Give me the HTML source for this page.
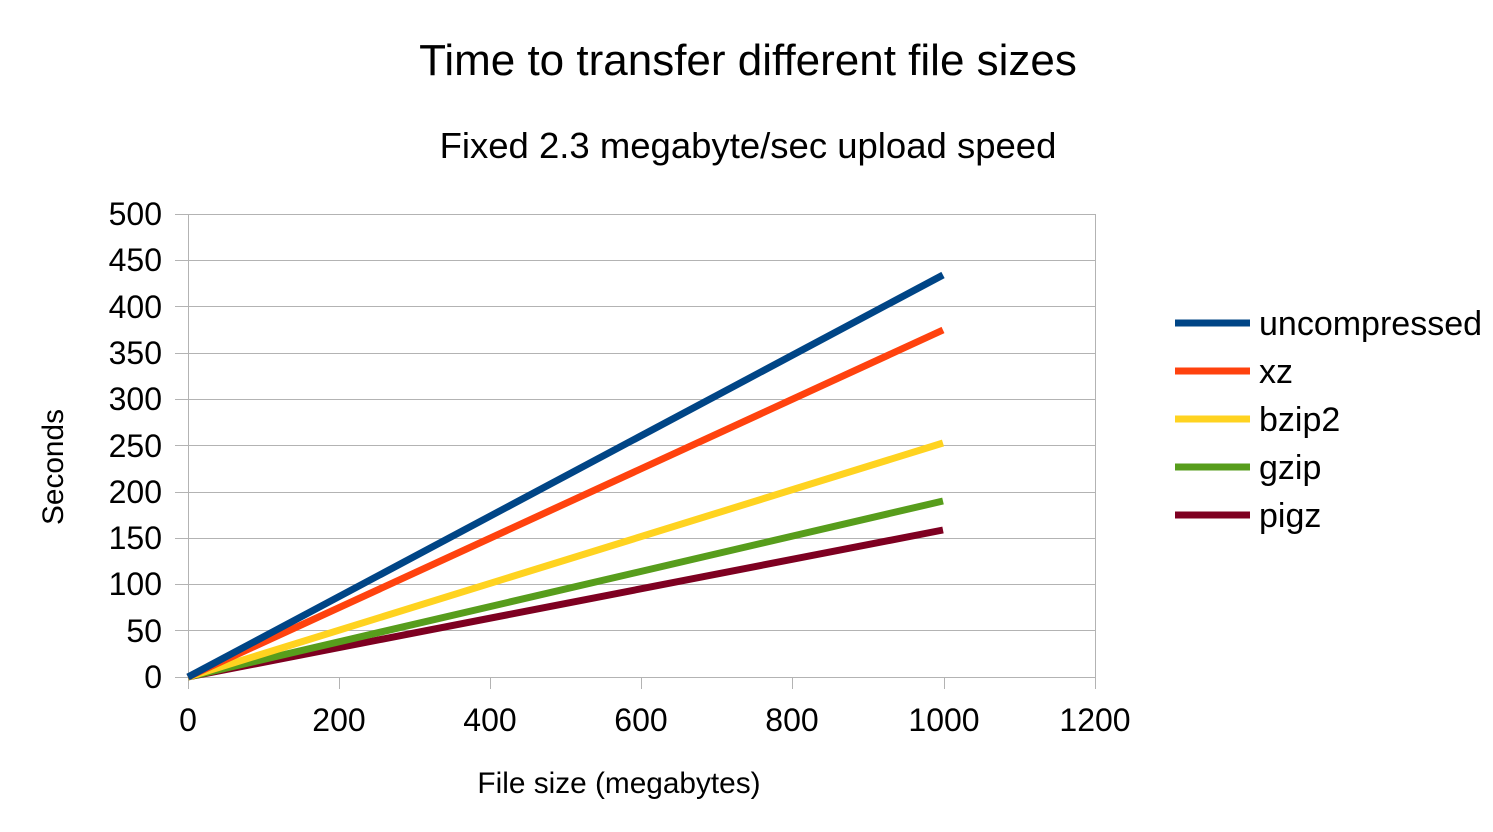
<!DOCTYPE html>
<html><head><meta charset="utf-8"><style>body{margin:0;background:#fff}</style></head><body>
<svg width="1493" height="827" xmlns="http://www.w3.org/2000/svg" font-family="Liberation Sans, sans-serif">
<rect width="1493" height="827" fill="#fff"/>
<text x="748" y="75" font-size="44" text-anchor="middle">Time to transfer different file sizes</text>
<text x="748" y="158" font-size="36.5" text-anchor="middle">Fixed 2.3 megabyte/sec upload speed</text>
<g stroke="#b3b3b3" stroke-width="1">
<line x1="175" y1="214.5" x2="1095" y2="214.5"/>
<line x1="175" y1="260.5" x2="1095" y2="260.5"/>
<line x1="175" y1="306.5" x2="1095" y2="306.5"/>
<line x1="175" y1="353.5" x2="1095" y2="353.5"/>
<line x1="175" y1="399.5" x2="1095" y2="399.5"/>
<line x1="175" y1="445.5" x2="1095" y2="445.5"/>
<line x1="175" y1="492.5" x2="1095" y2="492.5"/>
<line x1="175" y1="538.5" x2="1095" y2="538.5"/>
<line x1="175" y1="584.5" x2="1095" y2="584.5"/>
<line x1="175" y1="630.5" x2="1095" y2="630.5"/>
<line x1="175" y1="677.5" x2="1095" y2="677.5"/>
<line x1="188.5" y1="214" x2="188.5" y2="689"/>
<line x1="1095.5" y1="214" x2="1095.5" y2="689"/>
<line x1="339.5" y1="677" x2="339.5" y2="689"/>
<line x1="490.5" y1="677" x2="490.5" y2="689"/>
<line x1="641.5" y1="677" x2="641.5" y2="689"/>
<line x1="792.5" y1="677" x2="792.5" y2="689"/>
<line x1="944.5" y1="677" x2="944.5" y2="689"/>
</g>
<g font-size="32" text-anchor="end">
<text x="162" y="225">500</text><text x="162" y="271">450</text><text x="162" y="318">400</text>
<text x="162" y="364">350</text><text x="162" y="410">300</text><text x="162" y="457">250</text>
<text x="162" y="503">200</text><text x="162" y="549">150</text><text x="162" y="595">100</text>
<text x="162" y="642">50</text><text x="162" y="688">0</text>
</g>
<g font-size="32" text-anchor="middle">
<text x="188" y="731">0</text><text x="339" y="731">200</text><text x="490" y="731">400</text>
<text x="641" y="731">600</text><text x="792" y="731">800</text><text x="944" y="731">1000</text>
<text x="1095" y="731">1200</text>
</g>
<text x="619" y="793" font-size="29.8" text-anchor="middle">File size (megabytes)</text>
<text transform="translate(63,467) rotate(-90)" font-size="29.8" text-anchor="middle">Seconds</text>
<g stroke-width="7" stroke-linecap="butt" fill="none">
<line x1="188" y1="677" x2="943" y2="530" stroke="#7e0021"/>
<line x1="188" y1="677" x2="943" y2="501" stroke="#579d1c"/>
<line x1="188" y1="677" x2="943" y2="443" stroke="#ffd320"/>
<line x1="188" y1="677" x2="943" y2="330" stroke="#ff420e"/>
<line x1="188" y1="677" x2="943" y2="275" stroke="#004586"/>
</g>
<g stroke-width="7">
<line x1="1175" y1="323" x2="1250" y2="323" stroke="#004586"/>
<line x1="1175" y1="371" x2="1250" y2="371" stroke="#ff420e"/>
<line x1="1175" y1="419" x2="1250" y2="419" stroke="#ffd320"/>
<line x1="1175" y1="467" x2="1250" y2="467" stroke="#579d1c"/>
<line x1="1175" y1="515" x2="1250" y2="515" stroke="#7e0021"/>
</g>
<g font-size="34">
<text x="1259" y="335">uncompressed</text>
<text x="1259" y="383">xz</text>
<text x="1259" y="431">bzip2</text>
<text x="1259" y="479">gzip</text>
<text x="1259" y="527">pigz</text>
</g>
</svg>
</body></html>
